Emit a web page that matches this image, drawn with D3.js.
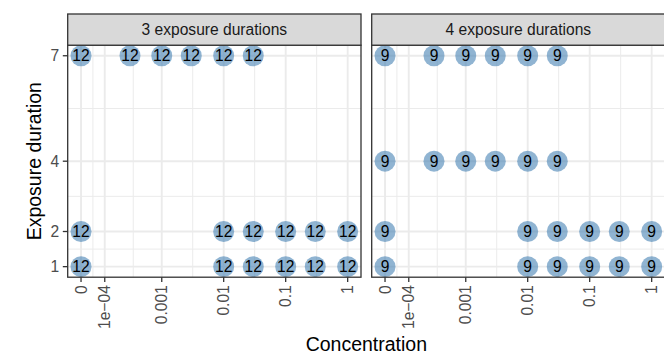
<!DOCTYPE html>
<html>
<head>
<meta charset="utf-8">
<script src="https://cdn.jsdelivr.net/npm/d3@7"></script>
<style>
  html, body { margin: 0; padding: 0; background: #fff; }
  svg { display: block; font-family: "Liberation Sans", Arial, sans-serif; }
</style>
</head>
<body>
<svg id="chart" width="664" height="354"></svg>
<script>
// Facets, durations present in each facet and replicate counts shown in the dots
const facetTitles = ["3 exposure durations", "4 exposure durations"];
const facetDurations = [[1, 2, 7], [1, 2, 4, 7]];
const facetReplicates = [12, 9];

// Concentrations tested at each exposure duration
const concShortExposure = [0, 0.01, 0.03, 0.1, 0.3, 1];          // durations 1 and 2
const concLongExposure = [0, 0.0003, 0.001, 0.003, 0.01, 0.03];  // durations 4 and 7

// Axis breaks and labels
const xTickValues = [0, 1e-4, 0.001, 0.01, 0.1, 1];
const xTickLabels = ["0", "1e\u221204", "0.001", "0.01", "0.1", "1"];
const yTickValues = [1, 2, 4, 7];

const concFor = d => (d <= 2 ? concShortExposure : concLongExposure);

// Pseudo-log transform (asinh based) so that zero can sit on the axis
const sigma = 5e-5;
const pseudoLog = v => Math.asinh(v / (2 * sigma)) / Math.LN10;

const svg = d3.select("#chart");
const W = 664, H = 354;

const panelTop = 45.2, panelBottom = 277.2;
const stripTop = 14;
const panelLefts = [67.7, 371.7];
const panelWidth = 293.3;

const fontTick = 15.6, fontTitle = 19.5;

// shared x domain in transformed space, expanded 5% each side
const tMin = pseudoLog(0), tMax = pseudoLog(1);
const tPad = (tMax - tMin) * 0.05;

const y = d3.scaleLinear()
  .domain([0.7, 7.3])
  .range([panelBottom, panelTop]);

const yMinor = [1.5, 3, 5.5];

facetTitles.forEach((title, i) => {
  const left = panelLefts[i];
  const x = d3.scaleLinear()
    .domain([tMin - tPad, tMax + tPad])
    .range([left, left + panelWidth]);
  const xp = v => x(pseudoLog(v));

  const g = svg.append("g");

  // panel background
  g.append("rect")
    .attr("x", left).attr("y", panelTop)
    .attr("width", panelWidth).attr("height", panelBottom - panelTop)
    .attr("fill", "#fff");

  // minor grid lines (midpoints of major breaks in transformed space)
  const tBreaks = xTickValues.map(pseudoLog);
  const xMinor = d3.pairs(tBreaks).map(([a, b]) => (a + b) / 2);
  g.selectAll(".xminor").data(xMinor).join("line")
    .attr("x1", d => x(d)).attr("x2", d => x(d))
    .attr("y1", panelTop).attr("y2", panelBottom)
    .attr("stroke", "#EBEBEB").attr("stroke-width", 1);
  g.selectAll(".yminor").data(yMinor).join("line")
    .attr("x1", left).attr("x2", left + panelWidth)
    .attr("y1", d => y(d)).attr("y2", d => y(d))
    .attr("stroke", "#EBEBEB").attr("stroke-width", 1);

  // major grid lines
  g.selectAll(".xmajor").data(xTickValues).join("line")
    .attr("x1", d => xp(d)).attr("x2", d => xp(d))
    .attr("y1", panelTop).attr("y2", panelBottom)
    .attr("stroke", "#EBEBEB").attr("stroke-width", 1.9);
  g.selectAll(".ymajor").data(yTickValues).join("line")
    .attr("x1", left).attr("x2", left + panelWidth)
    .attr("y1", d => y(d)).attr("y2", d => y(d))
    .attr("stroke", "#EBEBEB").attr("stroke-width", 1.9);

  // points with replicate counts
  const pts = [];
  facetDurations[i].forEach(d => {
    concFor(d).forEach(c => pts.push({ dur: d, conc: c, n: facetReplicates[i] }));
  });
  g.selectAll(".pt").data(pts).join("circle")
    .attr("cx", d => xp(d.conc)).attr("cy", d => y(d.dur))
    .attr("r", 10.5)
    .attr("fill", "steelblue").attr("fill-opacity", 0.6);
  g.selectAll(".lbl").data(pts).join("text")
    .attr("x", d => xp(d.conc)).attr("y", d => y(d.dur))
    .attr("dy", "0.36em")
    .attr("text-anchor", "middle")
    .attr("font-size", fontTick)
    .attr("fill", "#000")
    .text(d => d.n);

  // panel border
  g.append("rect")
    .attr("x", left).attr("y", panelTop)
    .attr("width", panelWidth).attr("height", panelBottom - panelTop)
    .attr("fill", "none").attr("stroke", "#333333").attr("stroke-width", 1.3);

  // strip
  g.append("rect")
    .attr("x", left).attr("y", stripTop)
    .attr("width", panelWidth).attr("height", panelTop - stripTop)
    .attr("fill", "#D9D9D9").attr("stroke", "#333333").attr("stroke-width", 1.3);
  g.append("text")
    .attr("x", left + panelWidth / 2).attr("y", (stripTop + panelTop) / 2)
    .attr("dy", "0.36em")
    .attr("text-anchor", "middle")
    .attr("font-size", fontTick)
    .attr("fill", "#1A1A1A")
    .text(title);

  // x axis ticks and rotated labels
  g.selectAll(".xtick").data(xTickValues).join("line")
    .attr("x1", d => xp(d)).attr("x2", d => xp(d))
    .attr("y1", panelBottom).attr("y2", panelBottom + 4.9)
    .attr("stroke", "#333333").attr("stroke-width", 1.3);
  g.selectAll(".xlab").data(xTickValues).join("text")
    .attr("transform", d => `translate(${xp(d)},${panelBottom + 8}) rotate(-90)`)
    .attr("dy", "0.36em")
    .attr("text-anchor", "end")
    .attr("font-size", fontTick)
    .attr("fill", "#4D4D4D")
    .text((d, k) => xTickLabels[k]);

  // y axis only on the first facet
  if (i === 0) {
    g.selectAll(".ytick").data(yTickValues).join("line")
      .attr("x1", left - 4.9).attr("x2", left)
      .attr("y1", d => y(d)).attr("y2", d => y(d))
      .attr("stroke", "#333333").attr("stroke-width", 1.3);
    g.selectAll(".ylab").data(yTickValues).join("text")
      .attr("x", left - 8.5).attr("y", d => y(d))
      .attr("dy", "0.36em")
      .attr("text-anchor", "end")
      .attr("font-size", fontTick)
      .attr("fill", "#4D4D4D")
      .text(d => d);
  }
});

// axis titles
svg.append("text")
  .attr("x", (panelLefts[0] + panelLefts[1] + panelWidth) / 2)
  .attr("y", 351)
  .attr("text-anchor", "middle")
  .attr("font-size", fontTitle)
  .attr("fill", "#000")
  .text("Concentration");

svg.append("text")
  .attr("transform", `translate(41,${(panelTop + panelBottom) / 2}) rotate(-90)`)
  .attr("text-anchor", "middle")
  .attr("font-size", fontTitle)
  .attr("fill", "#000")
  .text("Exposure duration");
</script>
</body>
</html>
